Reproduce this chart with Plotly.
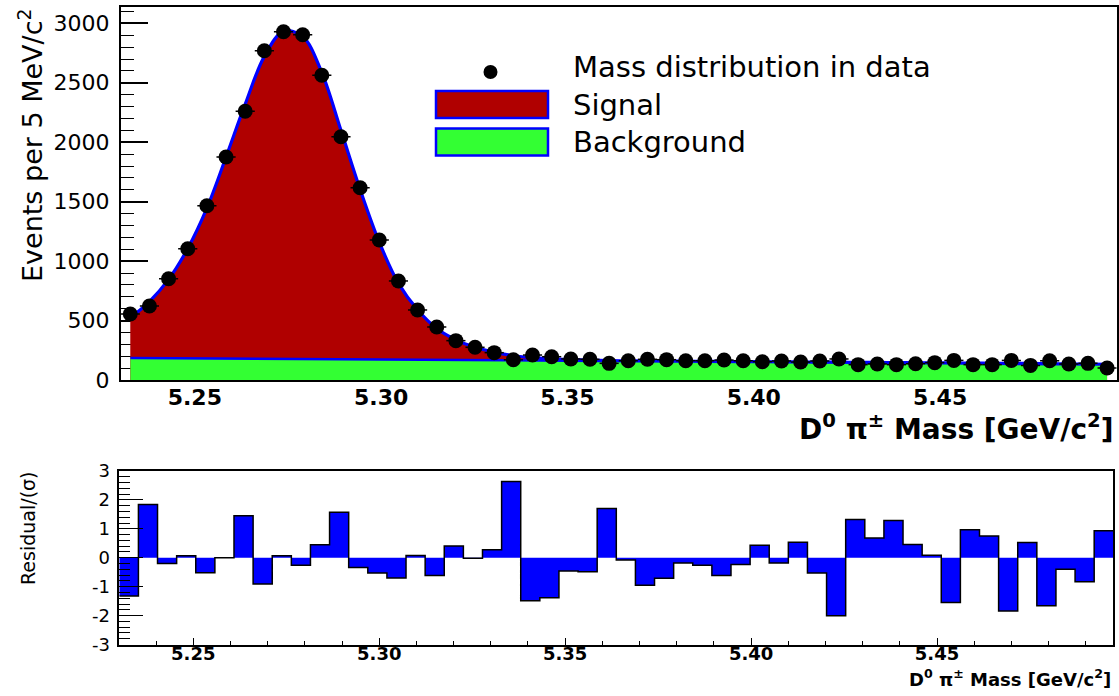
import numpy as np
import plotly.graph_objects as go

W, H = 1119, 696

# ---------------- data ----------------
X_LO, X_HI = 5.2301, 5.4974          # axis range [GeV/c^2]
N_BINS = 52

data_counts = [555, 622, 852, 1104, 1466, 1876, 2260, 2770, 2929, 2904,
               2563, 2046, 1617, 1177, 833, 589, 446, 331, 275, 230,
               170, 210, 196, 177, 174, 140, 162, 174, 171, 162,
               162, 168, 162, 154, 160, 151, 160, 177, 129, 135,
               129, 137, 146, 165, 129, 129, 165, 123, 162, 135,
               140, 101]

fit_total = [524, 660, 846, 1106, 1446, 1876, 2320, 2722, 2933, 2890,
             2586, 2100, 1603, 1159, 813, 591, 433, 338, 275, 234,
             204, 188, 177, 171, 167, 163, 161, 160, 159, 158,
             157, 156, 155, 154, 153, 152, 151, 150, 149, 148,
             146, 145, 144, 143, 142, 141, 140, 139, 137, 135,
             133, 131]

bkg_mass = [5.2327, 5.30, 5.35, 5.40, 5.45, 5.4948]
bkg_vals = [186, 172, 162, 151, 140, 130]

residuals = [-1.32, 1.84, -0.20, 0.07, -0.52, 0.00, 1.45, -0.91, 0.07, -0.26,
             0.45, 1.57, -0.34, -0.53, -0.70, 0.08, -0.61, 0.41, -0.02, 0.28,
             2.64, -1.49, -1.38, -0.46, -0.48, 1.70, -0.08, -0.95, -0.71, -0.18,
             -0.26, -0.61, -0.23, 0.43, -0.18, 0.54, -0.53, -2.01, 1.32, 0.68,
             1.29, 0.46, 0.09, -1.55, 0.97, 0.75, -1.84, 0.53, -1.66, -0.40,
             -0.83, 0.93]

x_tick_vals = [5.25, 5.30, 5.35, 5.40, 5.45]
x_tick_text = ["5.25", "5.30", "5.35", "5.40", "5.45"]
y_tick_vals = [0, 500, 1000, 1500, 2000, 2500, 3000]
y_tick_text = ["0", "500", "1000", "1500", "2000", "2500", "3000"]
r_tick_vals = [-3, -2, -1, 0, 1, 2, 3]
r_tick_text = ["-3", "-2", "-1", "0", "1", "2", "3"]

legend_labels = ["Mass distribution in data", "Signal", "Background"]

# ---------------- helpers ----------------
edges = np.linspace(X_LO, X_HI, N_BINS + 1)
centers = 0.5 * (edges[:-1] + edges[1:])
half_bin = 0.5 * (edges[1] - edges[0])


def px(x):
    return x / W


def py(y):
    return 1 - y / H


FONT = "DejaVu Sans"
RED = "#b00000"
GREEN = "#33ff33"
BLUE = "#0000ff"

fig = go.Figure()

# total fit (signal + background) as red area with blue line
fig.add_trace(go.Scatter(x=centers, y=fit_total, mode="lines",
                         line=dict(color=BLUE, width=3.2, shape="spline"),
                         fill="tozeroy", fillcolor=RED,
                         xaxis="x", yaxis="y", hoverinfo="skip"))
# background as green area
fig.add_trace(go.Scatter(x=bkg_mass, y=bkg_vals, mode="lines",
                         line=dict(color=BLUE, width=2.5, shape="spline"),
                         fill="tozeroy", fillcolor=GREEN,
                         xaxis="x", yaxis="y", hoverinfo="skip"))
# data points
fig.add_trace(go.Scatter(x=centers, y=data_counts, mode="markers",
                         marker=dict(color="black", size=15),
                         error_x=dict(type="constant", value=half_bin,
                                      thickness=1.5, width=0, color="black"),
                         xaxis="x", yaxis="y"))

# residual histogram (step)
step_x = list(edges)
step_y = list(residuals) + [residuals[-1]]
fig.add_trace(go.Scatter(x=step_x, y=step_y, mode="lines",
                         line=dict(color="black", width=1.5, shape="hv"),
                         fill="tozeroy", fillcolor=BLUE,
                         xaxis="x2", yaxis="y2", hoverinfo="skip"))

axis_common = dict(showline=True, linecolor="black", linewidth=1.5,
                   mirror=True, showgrid=False, zeroline=False,
                   automargin=False)

fig.update_layout(
    width=W, height=H, autosize=False,
    margin=dict(l=0, r=0, t=0, b=0, pad=0, autoexpand=False),
    paper_bgcolor="white", plot_bgcolor="white",
    showlegend=False,
    font=dict(family=FONT, color="black"),
    xaxis=dict(domain=[px(120.7), px(1116.7)], range=[X_LO, X_HI],
               anchor="y", ticks="", tickvals=x_tick_vals,
               ticktext=x_tick_text,
               tickfont=dict(family=FONT, size=22, weight="bold"),
               ticklabelstandoff=-3, **axis_common),
    yaxis=dict(domain=[py(380), py(6.7)], range=[0, 3140], anchor="x",
               ticks="inside", ticklen=28, tickwidth=1.5, tickcolor="black",
               tickvals=y_tick_vals, ticktext=y_tick_text,
               minor=dict(ticks="inside", ticklen=14, dtick=100,
                          tickwidth=1.2, tickcolor="black"),
               tickfont=dict(family=FONT, size=22),
               ticklabelstandoff=5, layer="below traces", **axis_common),
    xaxis2=dict(domain=[px(119.3), px(1113.3)], range=[X_LO, X_HI],
                anchor="y2", ticks="inside", ticklen=7, tickwidth=1.2,
                tickcolor="black", tickvals=x_tick_vals,
                ticktext=x_tick_text,
                minor=dict(ticks="inside", ticklen=4, dtick=0.01,
                           tick0=5.25, tickwidth=1, tickcolor="black"),
                tickfont=dict(family=FONT, size=18, weight="bold"),
                ticklabelstandoff=-8, **axis_common),
    yaxis2=dict(domain=[py(644.5), py(471)], range=[-3, 3], anchor="x2",
                ticks="inside", ticklen=24, tickwidth=1.2, tickcolor="black",
                tickvals=r_tick_vals, ticktext=r_tick_text,
                minor=dict(ticks="inside", ticklen=11, dtick=0.2,
                           tickwidth=1, tickcolor="black"),
                tickfont=dict(family=FONT, size=18),
                ticklabelstandoff=4, **axis_common),
)

annotations = [
    dict(text="<b>D<sup>0</sup> π<sup>±</sup> Mass [GeV/c<sup>2</sup>]</b>",
         x=px(1116), y=py(427), xref="paper", yref="paper",
         xanchor="right", yanchor="middle", showarrow=False,
         font=dict(family=FONT, size=28)),
    dict(text="Events per 5 MeV/c<sup>2</sup>", textangle=-90,
         x=px(31), y=py(6), xref="paper", yref="paper",
         xanchor="center", yanchor="top", showarrow=False,
         font=dict(family=FONT, size=27)),
    dict(text="<b>D<sup>0</sup> π<sup>±</sup> Mass [GeV/c<sup>2</sup>]</b>",
         x=px(1113), y=py(678), xref="paper", yref="paper",
         xanchor="right", yanchor="middle", showarrow=False,
         font=dict(family=FONT, size=18)),
    dict(text="Residual/(σ)", textangle=-90,
         x=px(28), y=py(469), xref="paper", yref="paper",
         xanchor="center", yanchor="top", showarrow=False,
         font=dict(family=FONT, size=19)),
]
legend_y = [67, 105, 142]
for lab, ly in zip(legend_labels, legend_y):
    annotations.append(dict(text=lab, x=px(571), y=py(ly), xref="paper",
                            yref="paper", xanchor="left", yanchor="middle",
                            showarrow=False, font=dict(family=FONT, size=29)))
fig.update_layout(annotations=annotations)

shapes = [
    dict(type="circle", xref="paper", yref="paper",
         x0=px(483.5), x1=px(497.5), y0=py(79), y1=py(65),
         fillcolor="black", line=dict(color="black", width=0)),
    dict(type="rect", xref="paper", yref="paper",
         x0=px(436), x1=px(548), y0=py(118), y1=py(91),
         fillcolor=RED, line=dict(color=BLUE, width=2.5)),
    dict(type="rect", xref="paper", yref="paper",
         x0=px(436), x1=px(548), y0=py(155.5), y1=py(128.5),
         fillcolor=GREEN, line=dict(color=BLUE, width=2.5)),
]
fig.update_layout(shapes=shapes)

fig.write_html("out.html", config={"displayModeBar": False},
               post_script="document.body.style.margin='0';"
                           "document.body.style.overflow='hidden';")
